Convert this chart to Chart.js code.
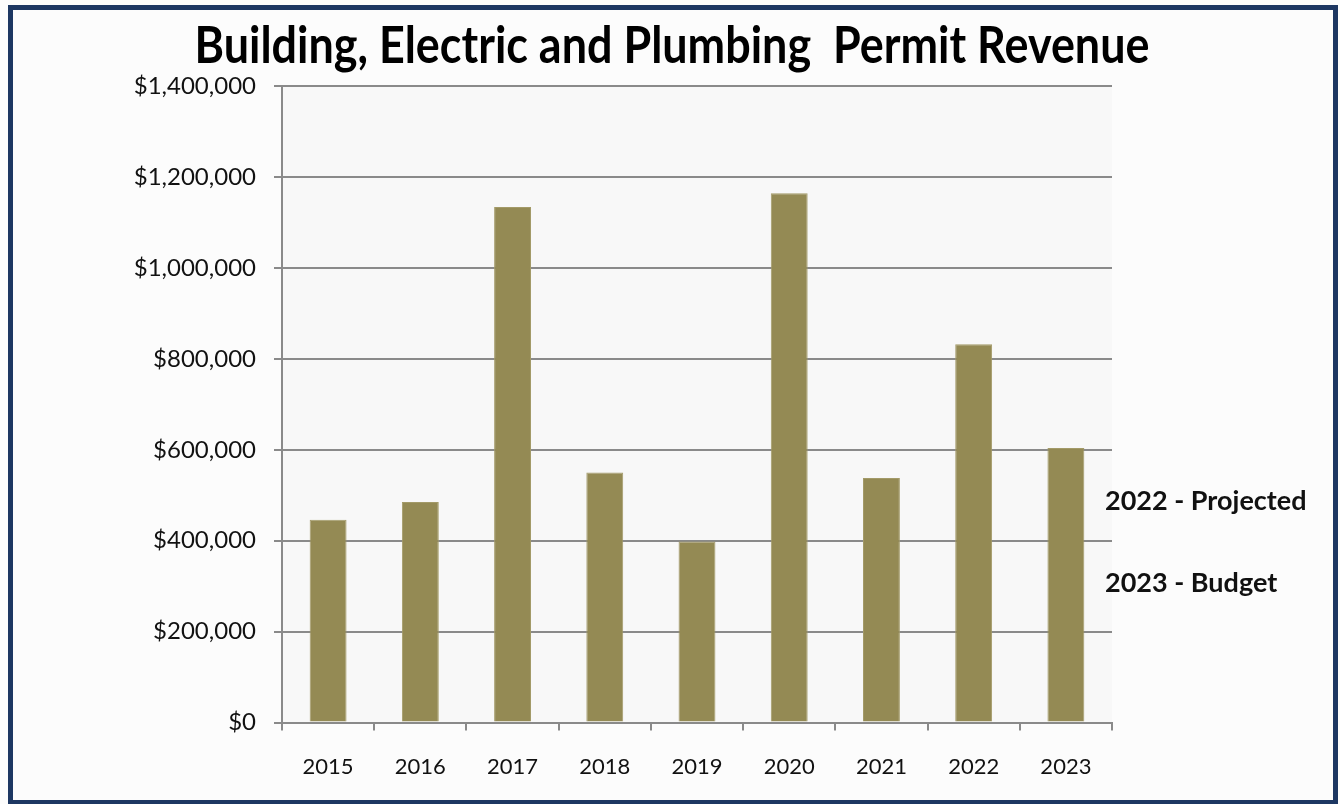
<!DOCTYPE html>
<html>
<head>
<meta charset="utf-8">
<script src="https://cdn.jsdelivr.net/npm/chart.js@4.4.1/dist/chart.umd.min.js"></script>
<style>
html,body{margin:0;padding:0;background:#ffffff;}
#wrap{width:1340px;height:804px;position:relative;}
</style>
</head>
<body>
<div id="wrap"><canvas id="c" width="1340" height="804"></canvas></div>
<script>
// ---- data ----
const categories = ['2015','2016','2017','2018','2019','2020','2021','2022','2023'];
const revenue = [446000, 485000, 1134000, 550000, 398000, 1164000, 538000, 832000, 604000];
const yTickValues = [0, 200000, 400000, 600000, 800000, 1000000, 1200000, 1400000];
const titleText = 'Building, Electric and Plumbing  Permit Revenue';
const notes = ['2022 - Projected', '2023 - Budget'];

const FONT = 'Lato, "Open Sans", sans-serif';

const framePlugin = {
  id: 'frame',
  beforeDraw(chart) {
    const ctx = chart.ctx;
    ctx.save();
    ctx.fillStyle = '#fcfcfc';
    ctx.fillRect(0, 0, chart.width, chart.height);
    const a = chart.chartArea;
    ctx.fillStyle = '#f8f8f8';
    ctx.fillRect(a.left, a.top, a.right - a.left, a.bottom - a.top);
    ctx.restore();
  },
  afterDraw(chart) {
    const ctx = chart.ctx;
    ctx.save();
    ctx.strokeStyle = '#1d3762';
    ctx.lineWidth = 5;
    ctx.strokeRect(10.5, 7.5, 1325, 795);
    // title (condensed to match the original narrow face)
    ctx.fillStyle = '#000000';
    ctx.font = 'bold 52px ' + FONT;
    ctx.textAlign = 'center';
    ctx.textBaseline = 'alphabetic';
    const w = ctx.measureText(titleText).width;
    const sx = 955 / w;
    ctx.save();
    ctx.translate(chart.width / 2 + 2, 63);
    ctx.scale(sx, 1);
    ctx.fillText(titleText, 0, 0);
    ctx.restore();
    // side notes
    const a = chart.chartArea;
    ctx.fillStyle = '#111111';
    ctx.font = 'bold 27px ' + FONT;
    ctx.textAlign = 'left';
    ctx.textBaseline = 'middle';
    ctx.fillText(notes[0], a.right - 7, 501);
    ctx.fillText(notes[1], a.right - 7, 583);
    ctx.restore();
  }
};

new Chart(document.getElementById('c'), {
  type: 'bar',
  data: {
    labels: categories,
    datasets: [{
      data: revenue,
      backgroundColor: '#948a54',
      borderColor: '#a39a68',
      borderWidth: 1,
      barPercentage: 0.8,
      categoryPercentage: 0.5
    }]
  },
  options: {
    responsive: false,
    animation: false,
    devicePixelRatio: 1,
    layout: { padding: { left: 0, right: 228, top: 86, bottom: 1 } },
    plugins: {
      legend: { display: false },
      tooltip: { enabled: false },
      title: { display: false }
    },
    scales: {
      x: {
        offset: true,
        grid: {
          display: true,
          drawOnChartArea: false,
          drawTicks: true,
          tickLength: 8,
          color: '#8a8a8a',
          lineWidth: 2,
          offset: true
        },
        border: { display: true, color: '#8a8a8a', width: 2 },
        ticks: {
          color: '#111111',
          font: { family: FONT, size: 22 },
          padding: 23
        }
      },
      y: {
        min: 0,
        max: 1400000,
        afterFit(scale) { scale.width = 282; },
        afterBuildTicks(scale) { scale.ticks = yTickValues.map(v => ({ value: v })); },
        grid: {
          color: '#8a8a8a',
          lineWidth: 2,
          tickLength: 8,
          drawTicks: true
        },
        border: { display: true, color: '#8a8a8a', width: 2 },
        ticks: {
          color: '#111111',
          font: { family: FONT, size: 24 },
          padding: 18,
          callback: v => '$' + Number(v).toLocaleString('en-US')
        }
      }
    }
  },
  plugins: [framePlugin]
});
</script>
</body>
</html>
